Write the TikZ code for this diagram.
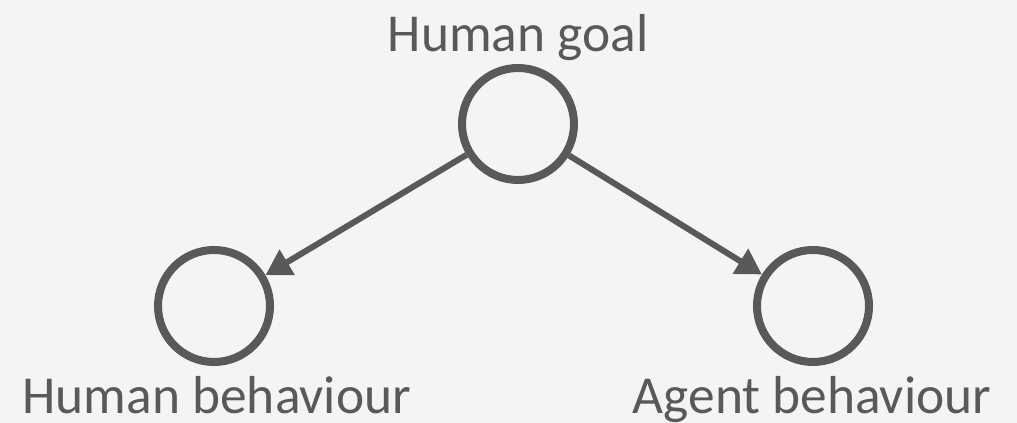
\documentclass[tikz,border=0pt]{standalone}
\usepackage{fontspec}
\setmainfont{Carlito}
\usepackage{xcolor}
\usetikzlibrary{arrows.meta, positioning}
\definecolor{fundo}{RGB}{244,244,244}
\definecolor{cinzaescuro}{RGB}{89,89,89}

\begin{document}
\begin{tikzpicture}[
  estado/.style={draw=cinzaescuro, line width=5.7pt, circle,
                 minimum size=2.8cm, inner sep=0pt},
  rotulo/.style={anchor=base, inner sep=0pt, text=cinzaescuro,
                 font=\fontsize{38}{44}\selectfont},
  seta/.style={-{Triangle[length=18pt, width=20pt]}, draw=cinzaescuro,
               fill=cinzaescuro, line width=4.3pt}
]
\fill[fundo] (0,0) rectangle (25.425,-10.575);
\useasboundingbox (0,0) rectangle (25.425,-10.575);

\node[estado] (goal) at (12.95,-3.1)   {};
\node[estado] (hb)   at (5.35,-7.65)   {};
\node[estado] (ab)   at (20.325,-7.65) {};

\node[rotulo] (goaltxt) at (12.95,-1.3)   {Human goal};
\node[rotulo] (hbtxt)   at (5.42,-10.35)  {Human behaviour};
\node[rotulo] (abtxt)   at (20.3,-10.35)  {Agent behaviour};

\draw[seta] (goal) -- (hb);
\draw[seta] (goal) -- (ab);

\end{tikzpicture}
\end{document}
